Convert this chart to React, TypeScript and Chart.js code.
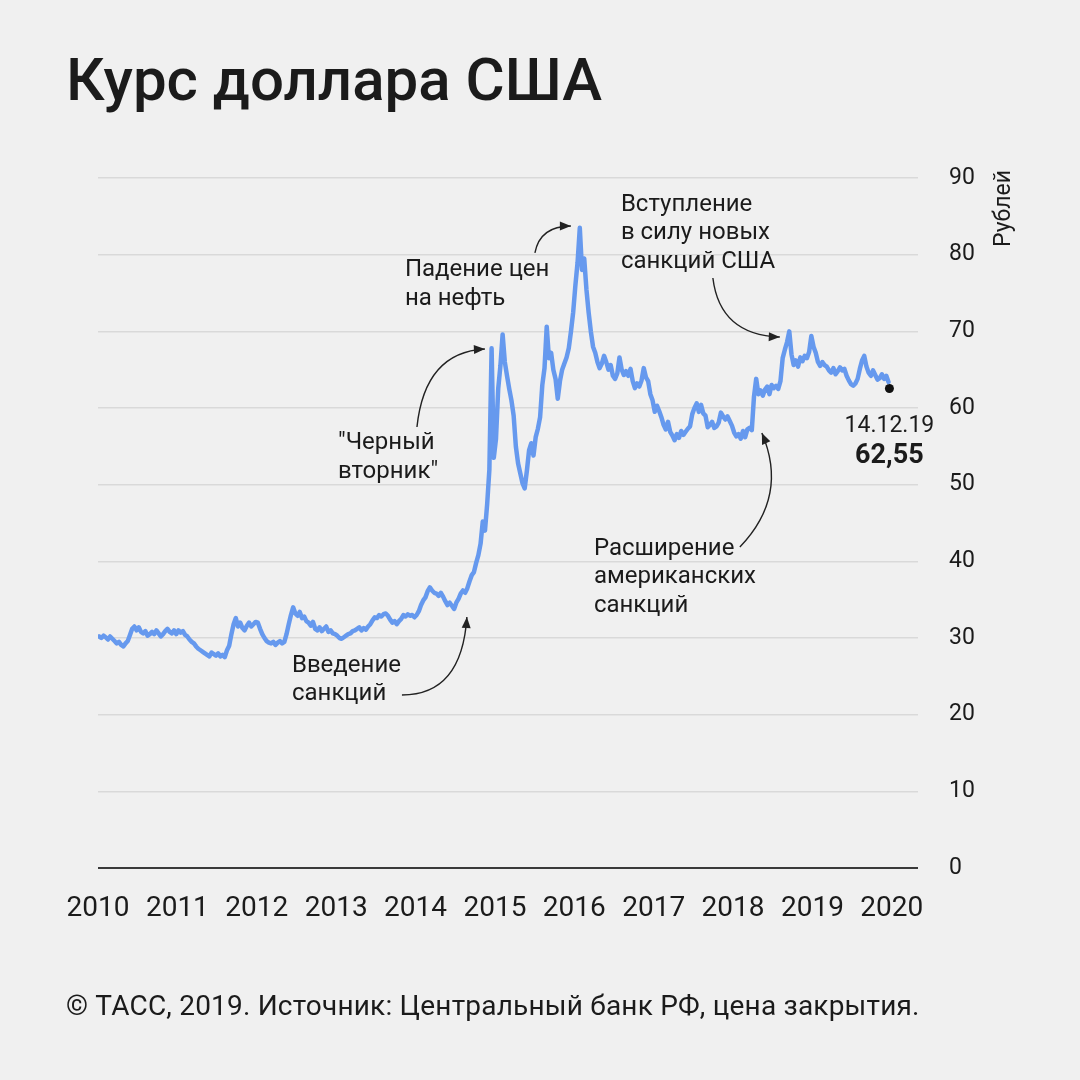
import React, { useEffect, useRef } from "react";
import { Chart, registerables } from "chart.js";

Chart.register(...registerables);

// ---- Data (USD/RUB, approx. 3 readings per month) ----
const YEARS = [2010, 2011, 2012, 2013, 2014, 2015, 2016, 2017, 2018, 2019];
const POINTS_PER_YEAR = 36;

const RUB_2010 = [30.2, 30.0, 30.3, 30.1, 29.8, 30.2, 29.9, 29.6, 29.3, 29.5, 29.1, 28.9, 29.3, 29.6, 30.4, 31.2, 31.5, 31.0, 31.4, 30.8, 30.6, 30.9, 30.3, 30.5, 30.8, 30.5, 31.0, 30.6, 30.2, 30.5, 30.9, 31.2, 30.8, 30.6, 31.0, 30.5];
const RUB_2011 = [31.0, 30.7, 30.9, 30.4, 30.2, 29.8, 29.5, 29.3, 28.9, 28.6, 28.4, 28.2, 28.0, 27.8, 27.6, 28.1, 27.9, 27.7, 28.0, 27.6, 27.8, 27.5, 28.4, 29.0, 30.5, 31.8, 32.6, 31.5, 32.0, 31.3, 31.0, 31.6, 32.0, 31.5, 31.8, 32.1];
const RUB_2012 = [32.0, 31.2, 30.5, 30.0, 29.6, 29.4, 29.3, 29.5, 29.1, 29.4, 29.6, 29.3, 29.5, 30.5, 31.8, 33.0, 34.0, 33.2, 32.9, 33.4, 32.6, 32.8, 32.2, 32.0, 31.6, 32.1, 31.2, 31.0, 31.4, 30.9, 31.2, 31.5, 30.8, 31.0, 30.6, 30.5];
const RUB_2013 = [30.3, 30.0, 29.9, 30.1, 30.3, 30.5, 30.6, 30.9, 31.0, 31.2, 31.4, 31.0, 31.3, 31.1, 31.5, 31.8, 32.3, 32.7, 32.6, 33.0, 32.8, 33.1, 33.2, 32.9, 32.4, 32.0, 32.2, 31.8, 32.2, 32.5, 33.0, 32.8, 33.1, 32.9, 33.0, 32.7];
const RUB_2014 = [33.0, 33.5, 34.3, 34.9, 35.3, 36.1, 36.6, 36.2, 35.9, 35.8, 35.5, 35.9, 35.4, 34.8, 34.3, 34.6, 34.2, 33.8, 34.6, 35.1, 35.8, 36.2, 35.9, 36.5, 37.4, 38.2, 38.6, 39.8, 40.8, 42.3, 45.2, 44.0, 47.5, 52.0, 67.8, 53.5];
const RUB_2015 = [56.0, 62.5, 65.5, 69.6, 66.0, 64.2, 62.5, 61.0, 59.0, 55.0, 52.8, 51.5, 50.2, 49.5, 51.8, 54.5, 55.4, 53.8, 56.2, 57.3, 58.8, 63.0, 65.2, 70.6, 66.5, 67.2, 65.0, 63.8, 61.2, 63.5, 65.0, 65.8, 66.6, 67.8, 70.0, 72.5];
const RUB_2016 = [76.0, 79.0, 83.5, 78.0, 79.5, 75.5, 72.5, 70.0, 68.0, 67.2, 66.0, 65.2, 65.8, 66.8, 66.0, 65.0, 65.6, 64.2, 63.8, 64.5, 66.6, 65.0, 64.3, 64.8, 64.2, 65.1, 63.5, 62.6, 63.2, 62.8, 63.6, 65.2, 64.0, 63.5, 61.8, 61.0];
const RUB_2017 = [59.5, 60.3, 59.6, 58.8, 57.8, 57.2, 58.2, 56.9, 56.4, 55.8, 56.6, 56.1, 57.0, 56.5, 56.9, 57.3, 57.6, 59.2, 60.0, 60.6, 59.5, 60.4, 59.3, 59.0, 57.5, 57.8, 58.2, 57.4, 57.6, 58.1, 59.4, 58.9, 58.5, 58.9, 58.3, 57.7];
const RUB_2018 = [56.8, 56.3, 56.6, 56.0, 57.0, 56.2, 57.2, 57.4, 57.1, 61.5, 63.8, 61.8, 62.3, 61.6, 62.4, 62.8, 61.8, 63.0, 62.6, 62.9, 62.5, 63.5, 66.5, 67.6, 68.6, 70.0, 67.0, 65.6, 66.2, 65.4, 66.6, 66.1, 66.8, 66.5, 67.3, 69.4];
const RUB_2019 = [68.0, 67.2, 66.0, 65.5, 66.0, 65.6, 65.4, 64.9, 64.6, 65.2, 64.4, 64.8, 65.3, 64.9, 65.1, 64.2, 63.6, 63.1, 62.9, 63.2, 63.8, 65.1, 66.2, 66.8, 65.4, 64.6, 64.2, 64.9, 64.3, 63.7, 63.9, 64.4, 63.8, 64.2, 63.4];
const SERIES = [RUB_2010, RUB_2011, RUB_2012, RUB_2013, RUB_2014, RUB_2015, RUB_2016, RUB_2017, RUB_2018, RUB_2019];

const X_TICKS = [2010, 2011, 2012, 2013, 2014, 2015, 2016, 2017, 2018, 2019, 2020];
const Y_TICKS = [0, 10, 20, 30, 40, 50, 60, 70, 80, 90];

const LAST_DATE_LABEL = "14.12.19";
const LAST_VALUE = 62.55;
const LAST_VALUE_LABEL = "62,55";
const LAST_X = 2019.97;

const TITLE = "Курс доллара США";
const FOOTER = "© ТАСС, 2019. Источник: Центральный банк РФ, цена закрытия.";
const Y_TITLE = "Рублей";

// Annotations anchored in data coordinates [year, rubles]
const ANNOTATIONS = [
  { lines: ["Введение", "санкций"], text: [2012.443, 26.35], from: [2013.829, 22.57], ctrl: [2014.584, 22.57], to: [2014.647, 32.74] },
  { lines: ["\"Черный", "вторник\""], text: [2013.023, 55.43], from: [2014.018, 57.52], ctrl: [2014.118, 67.3], to: [2014.874, 67.7] },
  { lines: ["Падение цен", "на нефть"], text: [2013.866, 78.0], from: [2015.504, 80.22], ctrl: [2015.567, 83.74], to: [2015.957, 83.74] },
  { lines: ["Вступление", "в силу новых", "санкций США"], text: [2016.587, 86.48], from: [2017.746, 76.96], ctrl: [2017.834, 69.52], to: [2018.589, 69.26] },
  { lines: ["Расширение", "американских", "санкций"], text: [2016.247, 41.61], from: [2018.086, 41.87], ctrl: [2018.703, 48.52], to: [2018.363, 56.74] },
];

const FONT = "Roboto";
const TEXT = "#1b1b1b";
const BG = "#f0f0f0";
const LINE = "#6699ee";

const decorPlugin = {
  id: "decor",
  beforeDraw(chart: any) {
    const { ctx, width, height } = chart;
    ctx.save();
    ctx.fillStyle = BG;
    ctx.fillRect(0, 0, width, height);
    ctx.restore();
  },
  afterDraw(chart: any) {
    const { ctx } = chart;
    const xs = chart.scales.x;
    const ys = chart.scales.y;
    const px = (p: number[]) => [xs.getPixelForValue(p[0]), ys.getPixelForValue(p[1])];
    ctx.save();
    // Title
    ctx.fillStyle = TEXT;
    ctx.textBaseline = "alphabetic";
    ctx.textAlign = "left";
    ctx.font = `500 60px ${FONT}`;
    ctx.fillText(TITLE, 66, 100);
    // Footer
    ctx.font = `400 28px ${FONT}`;
    try { (ctx as any).letterSpacing = "0.2px"; } catch (e) {}
    ctx.fillText(FOOTER, 66, 1015);
    try { (ctx as any).letterSpacing = "0px"; } catch (e) {}
    // Y title
    ctx.save();
    ctx.translate(1010, 170);
    ctx.rotate(-Math.PI / 2);
    ctx.textAlign = "right";
    ctx.textBaseline = "alphabetic";
    ctx.font = `400 23px ${FONT}`;
    ctx.fillText(Y_TITLE, 0, 0);
    ctx.restore();
    // Annotations
    ctx.font = `400 24px ${FONT}`;
    ctx.textBaseline = "middle";
    for (const a of ANNOTATIONS) {
      const [tx, ty] = px(a.text);
      a.lines.forEach((l, i) => ctx.fillText(l, tx, ty + i * 28.5));
      const [fx, fy] = px(a.from);
      const [cx, cy] = px(a.ctrl);
      const [ex, ey] = px(a.to);
      ctx.strokeStyle = "#222";
      ctx.lineWidth = 1.4;
      ctx.beginPath();
      ctx.moveTo(fx, fy);
      ctx.quadraticCurveTo(cx, cy, ex, ey);
      ctx.stroke();
      const ang = Math.atan2(ey - cy, ex - cx);
      const L = 11, W = 4.5;
      ctx.fillStyle = "#222";
      ctx.beginPath();
      ctx.moveTo(ex, ey);
      ctx.lineTo(ex - L * Math.cos(ang) + W * Math.sin(ang), ey - L * Math.sin(ang) - W * Math.cos(ang));
      ctx.lineTo(ex - L * Math.cos(ang) - W * Math.sin(ang), ey - L * Math.sin(ang) + W * Math.cos(ang));
      ctx.closePath();
      ctx.fill();
      ctx.fillStyle = TEXT;
    }
    // Last value labels
    const [dx, dy] = px([LAST_X, LAST_VALUE]);
    ctx.textAlign = "center";
    ctx.font = `400 23px ${FONT}`;
    ctx.fillText(LAST_DATE_LABEL, dx, dy + 38);
    ctx.font = `700 27px ${FONT}`;
    ctx.fillText(LAST_VALUE_LABEL, dx, dy + 68);
    ctx.restore();
  },
};

export default function App() {
  const ref = useRef<HTMLCanvasElement | null>(null);
  useEffect(() => {
    if (!ref.current) return;
    const points: { x: number; y: number }[] = [];
    SERIES.forEach((vals, yi) => {
      vals.forEach((v, i) => points.push({ x: YEARS[yi] + (i + 0.5) / POINTS_PER_YEAR, y: v }));
    });
    const chart = new Chart(ref.current, {
      type: "line",
      data: {
        datasets: [
          {
            data: points,
            borderColor: LINE,
            borderWidth: 4.5,
            pointRadius: 0,
            tension: 0,
            borderJoinStyle: "round",
            borderCapStyle: "round",
          } as any,
          {
            data: [{ x: LAST_X, y: LAST_VALUE }],
            showLine: false,
            pointRadius: 4.5,
            pointBackgroundColor: "#111",
            pointBorderWidth: 0,
          } as any,
        ],
      },
      options: {
        responsive: false,
        maintainAspectRatio: false,
        animation: false,
        layout: { padding: { left: 98, top: 178, right: 62, bottom: 152 } },
        plugins: { legend: { display: false }, tooltip: { enabled: false } },
        scales: {
          x: {
            type: "linear",
            min: 2010,
            max: 2020.33,
            afterBuildTicks: (s: any) => {
              s.ticks = X_TICKS.map((v) => ({ value: v }));
            },
            ticks: {
              callback: (v: any) => String(v),
              font: { family: FONT, size: 28 },
              color: TEXT,
              padding: 24,
              maxRotation: 0,
              autoSkip: false,
            },
            grid: { display: false, drawTicks: false },
            border: { display: false },
            afterFit: (s: any) => {
              s.height = 60;
            },
          },
          y: {
            position: "right",
            min: 0,
            max: 90,
            afterBuildTicks: (s: any) => {
              s.ticks = Y_TICKS.map((v) => ({ value: v }));
            },
            ticks: {
              font: { family: FONT, size: 23 },
              color: TEXT,
              padding: 31,
            },
            grid: {
              drawTicks: false,
              color: (c: any) => (c.tick && c.tick.value === 0 ? "#3a3a3a" : "#d9d9d9"),
              lineWidth: (c: any) => (c.tick && c.tick.value === 0 ? 2 : 1.5),
            },
            border: { display: false },
            afterFit: (s: any) => {
              s.width = 100;
            },
          },
        },
      } as any,
      plugins: [decorPlugin],
    });
    return () => chart.destroy();
  }, []);
  return (
    <div style={{ position: "absolute", left: 0, top: 0, width: 1080, height: 1080, background: BG }}>
      <canvas ref={ref} width={1080} height={1080} style={{ display: "block", width: 1080, height: 1080 }} />
    </div>
  );
}
